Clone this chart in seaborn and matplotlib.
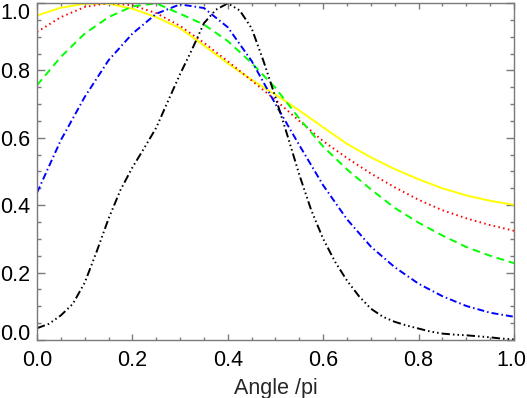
import numpy as np
import matplotlib
matplotlib.use("Agg")
import matplotlib.pyplot as plt
import seaborn as sns

# x grid (Angle / pi)
x = [0.00, 0.05, 0.10, 0.15, 0.20, 0.25, 0.30, 0.35, 0.40, 0.45, 0.50,
     0.55, 0.60, 0.65, 0.70, 0.75, 0.80, 0.85, 0.90, 0.95, 1.00]

yellow = [0.963, 0.986, 0.998, 0.998, 0.983, 0.958, 0.925, 0.874, 0.821, 0.772, 0.728,
          0.681, 0.631, 0.582, 0.542, 0.507, 0.477, 0.450, 0.429, 0.413, 0.401]
red = [0.914, 0.958, 0.988, 1.000, 0.993, 0.970, 0.932, 0.882, 0.827, 0.770, 0.712,
       0.650, 0.590, 0.540, 0.494, 0.453, 0.416, 0.385, 0.361, 0.341, 0.324]
green = [0.756, 0.840, 0.909, 0.958, 0.990, 0.999, 0.968, 0.936, 0.887, 0.822, 0.748,
         0.657, 0.574, 0.506, 0.447, 0.392, 0.348, 0.310, 0.276, 0.250, 0.228]
blue = [0.437, 0.593, 0.721, 0.830, 0.909, 0.968, 0.996, 0.985, 0.928, 0.828, 0.700,
        0.578, 0.459, 0.358, 0.277, 0.216, 0.167, 0.130, 0.101, 0.081, 0.069]

x_black = [0.000, 0.025, 0.050, 0.075, 0.100, 0.125, 0.150, 0.175, 0.200, 0.225,
           0.250, 0.275, 0.300, 0.325, 0.350, 0.375, 0.400, 0.425, 0.450, 0.475,
           0.500, 0.525, 0.550, 0.575, 0.600, 0.625, 0.650, 0.675, 0.700, 0.725,
           0.750, 0.775, 0.800, 0.825, 0.850, 0.875, 0.900, 0.925, 0.950, 0.975, 1.000]
black = [0.035, 0.048, 0.073, 0.107, 0.170, 0.262, 0.360, 0.445, 0.512, 0.570,
         0.630, 0.710, 0.789, 0.862, 0.940, 0.980, 0.999, 0.978, 0.925, 0.827,
         0.720, 0.607, 0.490, 0.385, 0.300, 0.232, 0.176, 0.130, 0.093, 0.069,
         0.054, 0.043, 0.034, 0.025, 0.019, 0.016, 0.014, 0.011, 0.008, 0.004, 0.002]

ticks = [0.0, 0.2, 0.4, 0.6, 0.8, 1.0]
tick_labels = ["0.0", "0.2", "0.4", "0.6", "0.8", "1.0"]
xlabel = "Angle /pi"

sns.set_style("ticks")
plt.rcParams["font.family"] = ["Liberation Sans", "DejaVu Sans"]
plt.rcParams["lines.scale_dashes"] = False

W, H = 527, 398
fig = plt.figure(figsize=(W / 100, H / 100), dpi=100)
ax = fig.add_axes([0.0702, 0.1457, 0.9753 - 0.0702, 0.9925 - 0.1457])

lw = 1.4
sns.lineplot(x=x, y=yellow, ax=ax, color="#ffff00", lw=lw, linestyle="-")
sns.lineplot(x=x, y=red, ax=ax, color="#ff0000", lw=lw, linestyle=(0, (1.1, 2.4)))
sns.lineplot(x=x, y=green, ax=ax, color="#00ff00", lw=lw, linestyle=(0, (5.5, 3.6)))
sns.lineplot(x=x, y=blue, ax=ax, color="#0000ff", lw=lw, linestyle=(0, (5.0, 2.2, 1.1, 2.2)))
sns.lineplot(x=x_black, y=black, ax=ax, color="#000000", lw=lw,
             linestyle=(0, (6.0, 2.2, 1.1, 2.2, 1.1, 2.2, 1.1, 2.2)))

ax.set_xlim(0, 1)
ax.set_ylim(0, 1)
ax.set_xticks(ticks)
ax.set_xticklabels(tick_labels[:-1] + [""])
ax.set_yticks(ticks)
ax.set_yticklabels(tick_labels)
ax.set_xticks(np.arange(0, 1.0001, 0.05), minor=True)
ax.set_yticks(np.arange(0, 1.0001, 0.05), minor=True)

frame_color = "#7a7a7a"
for s in ax.spines.values():
    s.set_color(frame_color)
    s.set_linewidth(1.0)

fs = 15.5
ax.tick_params(axis="x", which="major", direction="in", length=4.3, width=1,
               color=frame_color, top=True, bottom=True, labelsize=fs, pad=7,
               labelcolor="black")
ax.tick_params(axis="x", which="minor", direction="in", length=2.2, width=1,
               color=frame_color, top=True, bottom=True)
ax.tick_params(axis="y", which="major", direction="in", length=6.1, width=1,
               color=frame_color, left=True, right=True, labelsize=fs, pad=5,
               labelcolor="black")
ax.tick_params(axis="y", which="minor", direction="in", length=3.1, width=1,
               color=frame_color, left=True, right=True)

ylabels = ax.get_yticklabels()
ylabels[0].set_verticalalignment("baseline")
ylabels[-1].set_verticalalignment("top")

ax.set_xlabel(xlabel, fontsize=fs, labelpad=5)
ax.set_ylabel("")

# last x tick label kept just inside the right edge
fig.canvas.draw()
ref_lab = ax.get_xticklabels()[4]
bb = ref_lab.get_window_extent()
fig.text((W - 1) / W, bb.y0 / H, tick_labels[-1], ha="right", va="bottom",
         fontsize=fs, color="black")

fig.savefig("out.png", dpi=100)
